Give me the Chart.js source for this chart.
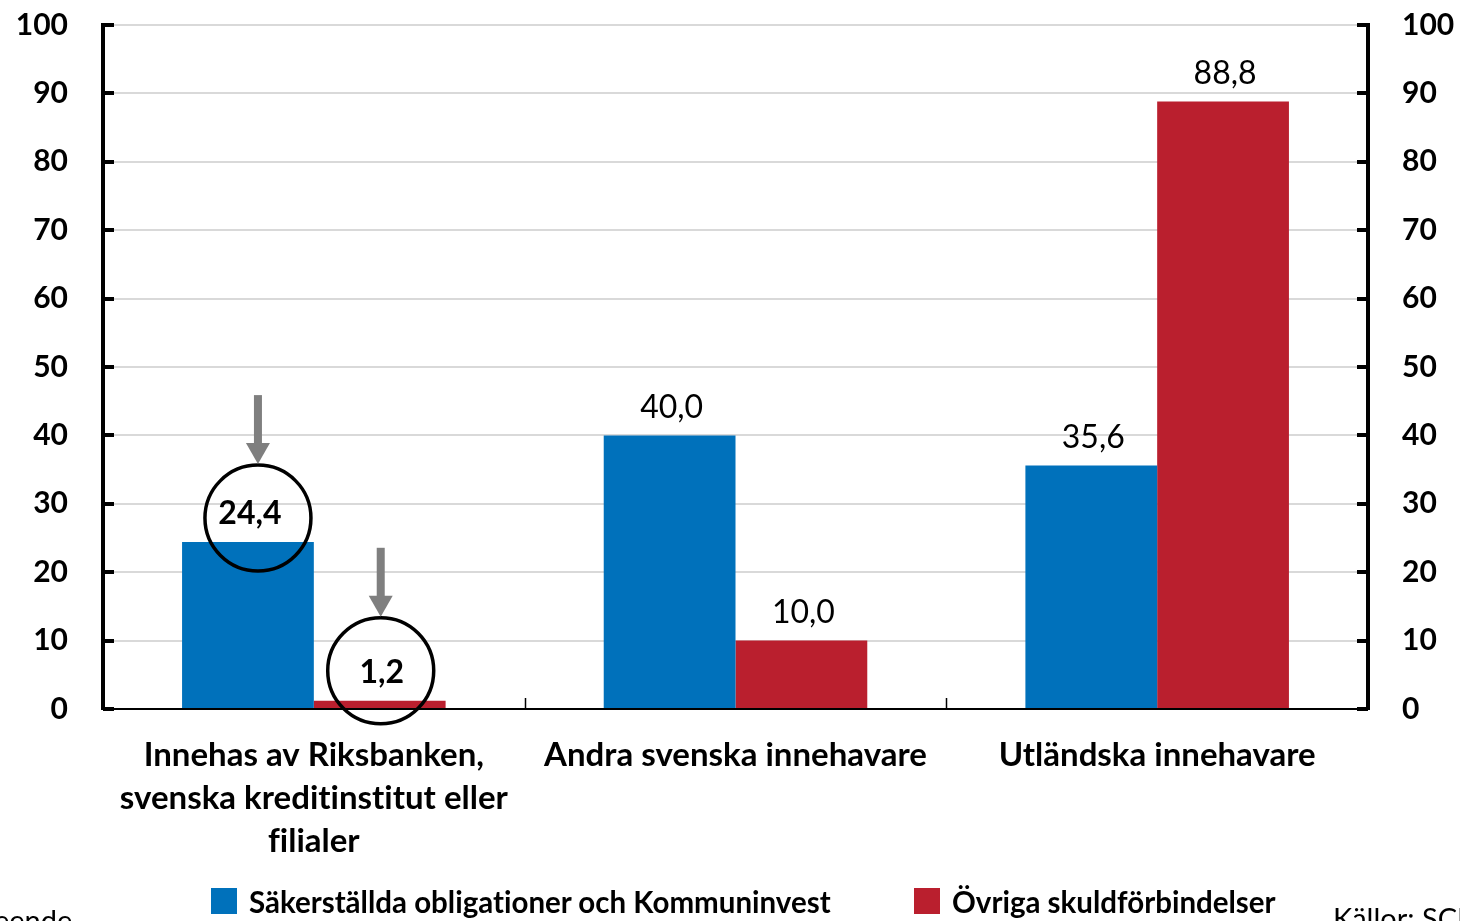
<!DOCTYPE html>
<html lang="sv">
<head>
<meta charset="UTF-8">
<script src="https://cdn.jsdelivr.net/npm/chart.js@4.4.0/dist/chart.umd.min.js"></script>
<title>Innehavare</title>
<style>
  html, body { margin: 0; padding: 0; overflow: hidden; background: #fff; }
  body { width: 1460px; height: 921px; position: relative; font-family: Lato, sans-serif; font-variant-ligatures: none; }
  #wrap { position: absolute; left: 0; top: 0; }
  .legend { position: absolute; top: 888px; font-weight: bold; font-size: 29.5px; line-height: 28px; color: #000; white-space: nowrap; }
  .legend span.box { display: inline-block; width: 26px; height: 26px; vertical-align: top; margin-right: 12px; }
  .note { position: absolute; font-size: 29px; color: #000; white-space: nowrap; }
</style>
</head>
<body>
<div id="wrap"><canvas id="myChart" width="1460" height="921"></canvas></div>

<div class="legend" style="left:211px"><span class="box" style="background:#0071bb"></span>Säkerställda obligationer och Kommuninvest</div>
<div class="legend" style="left:914px"><span class="box" style="background:#ba1f2e"></span>Övriga skuldförbindelser</div>
<div class="note" style="left:-6px; top:902px">eende</div>
<div class="note" style="left:1333px; top:900px">Källor: SCB</div>

<script>
// data
const kategorier = [
    ['Innehas av Riksbanken,', 'svenska kreditinstitut eller', 'filialer'],
    'Andra svenska innehavare',
    'Utländska innehavare'
];
const sakerstallda = [24.4, 40.0, 35.6];
const ovriga = [1.2, 10.0, 88.8];
const yTicks = [0, 10, 20, 30, 40, 50, 60, 70, 80, 90, 100];

const blue = '#0071bb';
const red = '#ba1f2e';

function fmt(v) {
    return v.toFixed(1).replace('.', ',');
}

// värden ovanför staplarna + ringar och pilar
const etiketter = {
    id: 'etiketter',
    afterDatasetsDraw(chart) {
        const ctx = chart.ctx;
        ctx.save();
        ctx.textAlign = 'center';
        ctx.textBaseline = 'middle';
        ctx.fillStyle = '#000';
        chart.data.datasets.forEach((ds, di) => {
            const meta = chart.getDatasetMeta(di);
            meta.data.forEach((bar, i) => {
                ctx.font = (i === 0 ? 'bold ' : '') + '32px Lato';
                ctx.fillText(fmt(ds.data[i]), bar.x + 2, bar.y - 28);
            });
        });

        // ringar runt de två första värdena
        const ringar = [
            { el: chart.getDatasetMeta(0).data[0], dx: 10, dy: 4 },
            { el: chart.getDatasetMeta(1).data[0], dx: 1, dy: -2 }
        ];
        ringar.forEach(r => {
            const cx = r.el.x + r.dx;
            const cy = r.el.y - 28 + r.dy;
            const rad = 53;
            ctx.beginPath();
            ctx.arc(cx, cy, rad, 0, Math.PI * 2);
            ctx.lineWidth = 3.5;
            ctx.strokeStyle = '#000';
            ctx.stroke();

            // pil
            const top = cy - rad - 70;
            const tip = cy - rad - 1;
            ctx.fillStyle = '#7f7f7f';
            ctx.fillRect(cx - 4, top, 8, 50);
            ctx.beginPath();
            ctx.moveTo(cx - 12, top + 48);
            ctx.lineTo(cx + 12, top + 48);
            ctx.lineTo(cx, tip);
            ctx.closePath();
            ctx.fill();
        });
        ctx.restore();
    }
};

// streck inåt på axlarna
const axelStreck = {
    id: 'axelStreck',
    afterDraw(chart) {
        const ctx = chart.ctx;
        const a = chart.chartArea;
        const y = chart.scales.y;
        const x = chart.scales.x;
        ctx.save();
        ctx.strokeStyle = '#000';
        ctx.lineWidth = 4;
        y.ticks.forEach(t => {
            const py = Math.round(y.getPixelForValue(t.value));
            ctx.beginPath();
            ctx.moveTo(a.left, py);
            ctx.lineTo(a.left + 11, py);
            ctx.moveTo(a.right, py);
            ctx.lineTo(a.right - 11, py);
            ctx.stroke();
        });
        ctx.lineWidth = 1.5;
        for (let i = 0; i < kategorier.length - 1; i++) {
            const px = Math.round((x.getPixelForValue(i) + x.getPixelForValue(i + 1)) / 2) + 0.5;
            ctx.beginPath();
            ctx.moveTo(px, a.bottom);
            ctx.lineTo(px, a.bottom - 11);
            ctx.stroke();
        }
        ctx.restore();
    }
};

function noPad(scale) {
    scale.paddingTop = 0;
    scale.paddingBottom = 0;
    scale.paddingLeft = 0;
    scale.paddingRight = 0;
}

const myChart = new Chart(document.getElementById('myChart'), {
    type: 'bar',
    data: {
        labels: kategorier,
        datasets: [
            { label: 'Säkerställda obligationer och Kommuninvest', data: sakerstallda, backgroundColor: blue },
            { label: 'Övriga skuldförbindelser', data: ovriga, backgroundColor: red }
        ]
    },
    options: {
        responsive: false,
        devicePixelRatio: 1,
        animation: false,
        layout: { padding: { top: 25, left: 0, right: 0, bottom: 0 } },
        plugins: {
            legend: { display: false },
            tooltip: { enabled: false }
        },
        datasets: {
            bar: { categoryPercentage: 0.625, barPercentage: 1.0 }
        },
        scales: {
            x: {
                grid: { display: false },
                border: { display: true, color: '#000', width: 2 },
                ticks: {
                    color: '#000',
                    padding: 17,
                    font: { family: 'Lato', size: 33, weight: 'bold', lineHeight: 1.3 },
                    maxRotation: 0,
                    autoSkip: false
                },
                afterFit(scale) { scale.height = 212; noPad(scale); }
            },
            y: {
                position: 'left',
                min: 0,
                max: 100,
                afterBuildTicks(scale) { scale.ticks = yTicks.map(v => ({ value: v })); },
                grid: { color: '#d9d9d9', lineWidth: 2, drawTicks: false },
                border: { display: true, color: '#000', width: 4 },
                ticks: {
                    color: '#000',
                    padding: 35,
                    font: { family: 'Lato', size: 30, weight: 'bold' }
                },
                afterFit(scale) { scale.width = 103; noPad(scale); }
            },
            y2: {
                position: 'right',
                min: 0,
                max: 100,
                afterBuildTicks(scale) { scale.ticks = yTicks.map(v => ({ value: v })); },
                grid: { display: false, drawTicks: false },
                border: { display: true, color: '#000', width: 4 },
                ticks: {
                    color: '#000',
                    padding: 34,
                    font: { family: 'Lato', size: 30, weight: 'bold' }
                },
                afterFit(scale) { scale.width = 92; noPad(scale); }
            }
        }
    },
    plugins: [etiketter, axelStreck]
});
</script>
</body>
</html>
